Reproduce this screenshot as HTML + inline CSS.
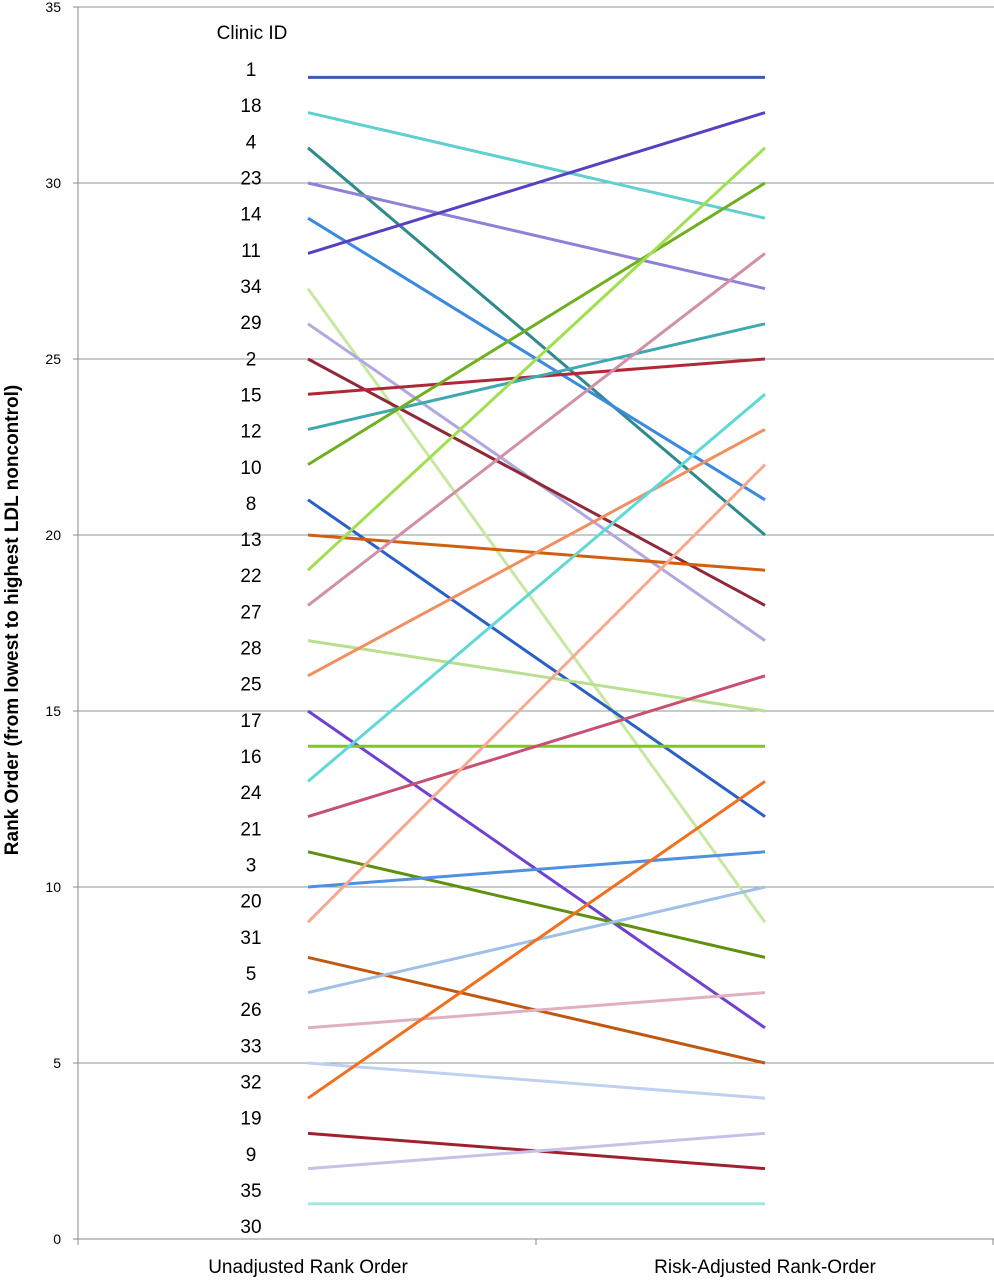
<!DOCTYPE html>
<html><head><meta charset="utf-8"><style>
html,body{margin:0;padding:0;background:#fff;}
svg{display:block;font-family:"Liberation Sans",Arial,sans-serif;}
</style></head><body>
<svg id="chart" width="994" height="1280" viewBox="0 0 994 1280" xmlns="http://www.w3.org/2000/svg">
<g id="grid"></g>
<g id="axes"></g>
<g id="ids"></g>
<g id="lines"></g>
<text transform="translate(18,620) rotate(-90)" text-anchor="middle" font-size="19" font-weight="bold">Rank Order (from lowest to highest LDL noncontrol)</text>
</svg>
<script>
const categories = ["Unadjusted Rank Order", "Risk-Adjusted Rank-Order"];
const unadjusted = [33,32,31,30,29,28,27,26,25,24,23,22,21,20,19,18,17,16,15,14,13,12,11,10,9,8,7,6,5,4,3,2,1];
const adjusted   = [33,29,20,27,21,32,9,17,18,25,26,30,12,19,31,28,15,23,6,14,24,16,8,11,22,5,10,7,4,13,2,3,1];
const lineColors = ["#3a5fb0","#5fcfcf","#2e8b8b","#9080d8","#3a8ae0","#5a40c0","#c8e8a0","#b0a8e0","#902838","#b02838","#40a8b0","#70b020","#2860c8","#d06010","#a0e050","#d090a8","#b8e090","#f09060","#7040d0","#80c820","#60d8d8","#c85070","#609010","#5090e0","#f8a890","#c05810","#a0c0e8","#e0b0c0","#c0d0f0","#f07020","#a02030","#c8c0e8","#a0e8e0"];
const clinicIds = ["1","18","4","23","14","11","34","29","2","15","12","10","8","13","22","27","28","25","17","16","24","21","3","20","31","5","26","33","32","19","9","35","30"];
const yTicks = [0,5,10,15,20,25,30,35];

const NS="http://www.w3.org/2000/svg";
const x0=78,x1=994,yB=1239,yT=7,yMax=35;
const y=v=>yB-(v/yMax)*(yB-yT);
const xCat=i=>[308,765][i];
function mk(tag,attrs,parent){const e=document.createElementNS(NS,tag);for(const k in attrs)e.setAttribute(k,attrs[k]);parent.appendChild(e);return e;}
const grid=document.getElementById('grid'),axes=document.getElementById('axes'),ids=document.getElementById('ids'),lines=document.getElementById('lines');
yTicks.forEach(t=>{
  if(t>0){const g=mk('line',{x1:x0,x2:x1,y1:y(t),y2:y(t),stroke:'#8a9a9a','stroke-width':1},grid);
  
  }
  const tk=mk('line',{x1:x0-5,x2:x0,y1:y(t),y2:y(t),stroke:'#888'},axes);
  
  
  const tl=mk('text',{x:x0-17,y:y(t)+5,'text-anchor':'end','font-size':14},axes);
  tl.textContent=t;
  
  
});
const ya=mk('line',{x1:x0,x2:x0,y1:yT,y2:yB,stroke:'#888'},axes);


const xa=mk('line',{x1:x0,x2:x1,y1:yB,y2:yB,stroke:'#888'},axes);


[x0,536,x1-1].forEach((xx,i)=>{const t=mk('line',{x1:xx,x2:xx,y1:yB,y2:yB+6,stroke:'#888'},axes);

});
categories.forEach((c,i)=>{const t=mk('text',{x:xCat(i),y:1273,'text-anchor':'middle','font-size':19},axes);t.textContent=c;

});
const h=mk('text',{x:252,y:39,'text-anchor':'middle','font-size':19},ids);h.textContent='Clinic ID';


clinicIds.forEach((id,i)=>{const t=mk('text',{x:251,y:76+i*36.16,'text-anchor':'middle','font-size':19},ids);t.textContent=id;

});
unadjusted.forEach((u,i)=>{
  const l=mk('line',{x1:xCat(0),y1:y(u),x2:xCat(1),y2:y(adjusted[i]),stroke:lineColors[i],'stroke-width':3},lines);
  
  
});
</script>
</body></html>
